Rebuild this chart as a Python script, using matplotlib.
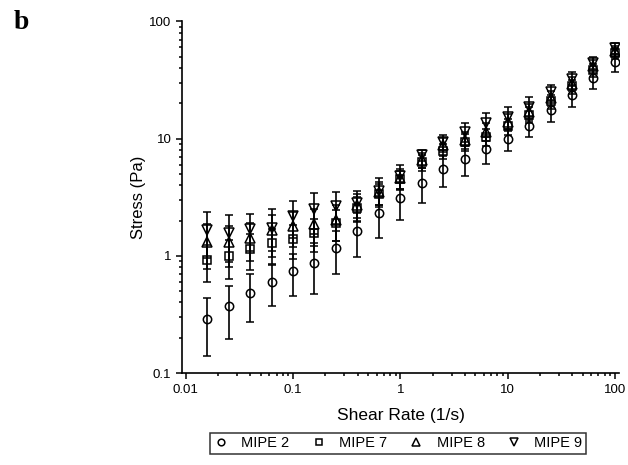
import matplotlib
matplotlib.use("Agg")
import matplotlib.pyplot as plt
from matplotlib.lines import Line2D
from matplotlib.ticker import LogLocator, NullFormatter, FixedLocator, FixedFormatter

plt.rcParams['font.family'] = ['Liberation Sans', 'DejaVu Sans']

# shear rate (1/s)
shear = [0.0158, 0.0251, 0.0398, 0.0631, 0.1, 0.158, 0.251, 0.398, 0.631, 1.0,
         1.58, 2.51, 3.98, 6.31, 10.0, 15.8, 25.1, 39.8, 63.1, 100.0]

# stress (Pa) and standard deviation per sample
mipe2 = [0.29, 0.376, 0.485, 0.60, 0.747, 0.875, 1.17, 1.64, 2.34, 3.14,
         4.22, 5.49, 6.7, 8.14, 9.96, 12.9, 17.6, 23.6, 32.9, 44.7]
mipe2_err = [0.15, 0.18, 0.21, 0.23, 0.29, 0.40, 0.47, 0.66, 0.93, 1.1,
             1.4, 1.64, 1.9, 2.1, 2.1, 2.6, 3.6, 5.0, 6.3, 7.7]

mipe7 = [0.92, 1.0, 1.15, 1.28, 1.39, 1.58, 1.90, 2.55, 3.4, 4.5,
         6.3, 7.86, 9.4, 10.4, 12.7, 16.0, 20.8, 27.9, 38.7, 53.9]
mipe7_err = [0.32, 0.37, 0.40, 0.42, 0.45, 0.50, 0.55, 0.6, 0.7, 0.8,
             1.0, 1.2, 1.5, 1.8, 2.0, 2.5, 3.0, 3.8, 5.0, 6.0]

mipe8 = [1.32, 1.30, 1.41, 1.66, 1.78, 1.86, 2.04, 2.7, 3.5, 4.6,
         6.6, 8.86, 9.76, 11.5, 14.0, 17.0, 22.2, 29.4, 41.4, 55.6]
mipe8_err = [0.55, 0.5, 0.5, 0.55, 0.6, 0.65, 0.7, 0.7, 0.8, 0.9,
             1.0, 1.2, 1.6, 2.0, 2.3, 2.8, 3.2, 4.0, 5.2, 6.2]

mipe9 = [1.66, 1.56, 1.69, 1.74, 2.19, 2.5, 2.68, 2.85, 3.6, 4.8,
         7.2, 9.44, 11.5, 13.6, 15.4, 18.6, 24.8, 32.5, 44.1, 59.3]
mipe9_err = [0.71, 0.67, 0.59, 0.76, 0.77, 0.96, 0.81, 0.73, 1.0, 1.17,
             0.8, 1.36, 2.1, 2.9, 3.2, 4.0, 3.7, 4.2, 5.8, 6.7]

series = [
    ("MIPE 2", mipe2, mipe2_err, "o", 6),
    ("MIPE 7", mipe7, mipe7_err, "s", 5.2),
    ("MIPE 8", mipe8, mipe8_err, "^", 7),
    ("MIPE 9", mipe9, mipe9_err, "v", 7),
]

fig = plt.figure(figsize=(6.28, 4.65), dpi=100)
ax = fig.add_axes([0.2906, 0.1978, 0.695, 0.756])

handles = []
for name, y, err, m, size in series:
    ax.errorbar(shear, y, yerr=err, fmt=m, mfc="none", mec="black", mew=1.1,
                ms=size, ecolor="black", elinewidth=1.2,
                capsize=3.2, capthick=1.2, zorder=3)
    handles.append(Line2D([], [], ls="none", marker=m, mfc="none", mec="black",
                          mew=1.1, ms=size * 0.8, label=name))

ax.set_xscale("log")
ax.set_yscale("log")
ax.set_xlim(0.0093, 109)
ax.set_ylim(0.1, 100)

ax.spines['top'].set_visible(False)
ax.spines['right'].set_visible(False)
for s in ("left", "bottom"):
    ax.spines[s].set_linewidth(1.2)

ax.xaxis.set_major_locator(FixedLocator([0.01, 0.1, 1, 10, 100]))
ax.xaxis.set_major_formatter(FixedFormatter(["0.01", "0.1", "1", "10", "100"]))
ax.yaxis.set_major_locator(FixedLocator([0.1, 1, 10, 100]))
ax.yaxis.set_major_formatter(FixedFormatter(["0.1", "1", "10", "100"]))
ax.xaxis.set_minor_locator(LogLocator(base=10, subs=range(2, 10), numticks=20))
ax.yaxis.set_minor_locator(LogLocator(base=10, subs=range(2, 10), numticks=20))
ax.xaxis.set_minor_formatter(NullFormatter())
ax.yaxis.set_minor_formatter(NullFormatter())
ax.tick_params(which="major", direction="out", length=4.5, width=1.1, labelsize=9.5)
ax.tick_params(which="minor", direction="out", length=2.5, width=1.1)

ax.set_xlabel("Shear Rate (1/s)", fontsize=12.5)
ax.set_ylabel("Stress (Pa)", fontsize=12)
ax.xaxis.set_label_coords(0.5, -0.12)
ax.xaxis.label.set_va("center")
ax.yaxis.set_label_coords(-0.1, 0.5)
ax.yaxis.label.set_va("center")

leg = ax.legend(handles=handles, loc="center", bbox_to_anchor=(0.494, -0.2),
                ncol=4, frameon=True, fancybox=False, edgecolor="black",
                fontsize=10.5, handlelength=1.0, handletextpad=0.9,
                columnspacing=1.5, borderpad=0.25, borderaxespad=0)
leg.get_frame().set_linewidth(1.1)

fig.text(0.021, 1 - 29 / 465, "b", fontsize=20, fontweight="bold",
         family="Liberation Serif", va="baseline")

fig.savefig("out.png", dpi=100)
